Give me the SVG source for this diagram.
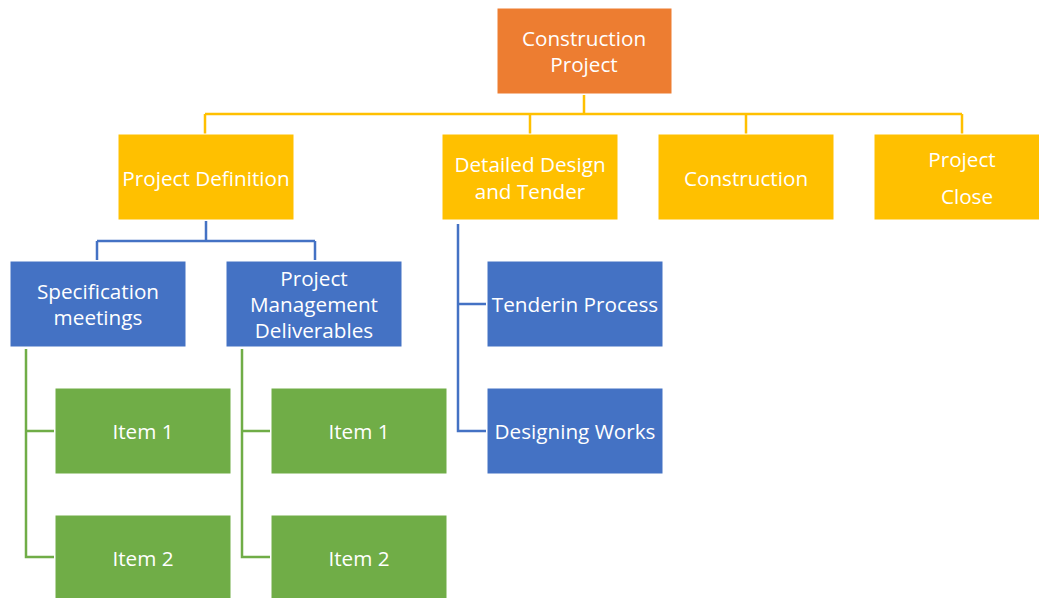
<svg xmlns="http://www.w3.org/2000/svg" width="1039" height="598" viewBox="0 0 1039 598">
<style>
.n rect{stroke:#ffffff;stroke-width:1}
.o{fill:#ED7D31}.y{fill:#FFC000}.b{fill:#4472C4}.g{fill:#70AD47}
text{font-family:"Open Sans","Noto Sans","Liberation Sans",sans-serif;font-size:20.7px;fill:#ffffff;text-anchor:middle;dominant-baseline:central}
.c path{fill:none;stroke-width:2.5}
.cy path{stroke:#FFC000}.cb path{stroke:#4472C4}.cg path{stroke:#70AD47}
</style>
<rect width="1039" height="598" fill="#ffffff"/>
<g id="connectors" class="c">
<g class="cy">
<path d="M584 95V114M205 114H962M205 114V134M530 114V134M746 114V134M962 114V134"/>
</g>
<g class="cb">
<path d="M206 221V241M97 241H315M97 241V260M315 241V260"/>
<path d="M458 224V431H486M458 304H486"/>
</g>
<g class="cg">
<path d="M26 349V557H54M26 431H54"/>
<path d="M242 349V557H270M242 431H270"/>
</g>
</g>
<g id="root" class="n"><rect class="o" x="497" y="8" width="175" height="86"/><text x="584" y="38">Construction</text><text x="584" y="64">Project</text></g>
<g id="project-definition" class="n"><rect class="y" x="118" y="134" width="176" height="86"/><text x="206" y="178">Project Definition</text></g>
<g id="detailed-design" class="n"><rect class="y" x="442" y="134" width="176" height="86"/><text x="530" y="164">Detailed Design</text><text x="530" y="191">and Tender</text></g>
<g id="construction" class="n"><rect class="y" x="658" y="134" width="176" height="86"/><text x="746" y="178">Construction</text></g>
<g id="project-close" class="n"><rect class="y" x="874" y="134" width="166" height="86"/><text x="962" y="159">Project</text><text x="967" y="196">Close</text></g>
<g id="spec-meetings" class="n"><rect class="b" x="10" y="261" width="176" height="86"/><text x="98" y="291">Specification</text><text x="98" y="317">meetings</text></g>
<g id="pm-deliverables" class="n"><rect class="b" x="226" y="261" width="176" height="86"/><text x="314" y="278">Project</text><text x="314" y="304">Management</text><text x="314" y="330">Deliverables</text></g>
<g id="tenderin-process" class="n"><rect class="b" x="487" y="261" width="176" height="86"/><text x="575" y="304">Tenderin Process</text></g>
<g id="designing-works" class="n"><rect class="b" x="487" y="388" width="176" height="86"/><text x="575" y="431">Designing Works</text></g>
<g id="spec-item1" class="n"><rect class="g" x="55" y="388" width="176" height="86"/><text x="143" y="431">Item 1</text></g>
<g id="spec-item2" class="n"><rect class="g" x="55" y="515" width="176" height="86"/><text x="143" y="558">Item 2</text></g>
<g id="pm-item1" class="n"><rect class="g" x="271" y="388" width="176" height="86"/><text x="359" y="431">Item 1</text></g>
<g id="pm-item2" class="n"><rect class="g" x="271" y="515" width="176" height="86"/><text x="359" y="558">Item 2</text></g>
</svg>
